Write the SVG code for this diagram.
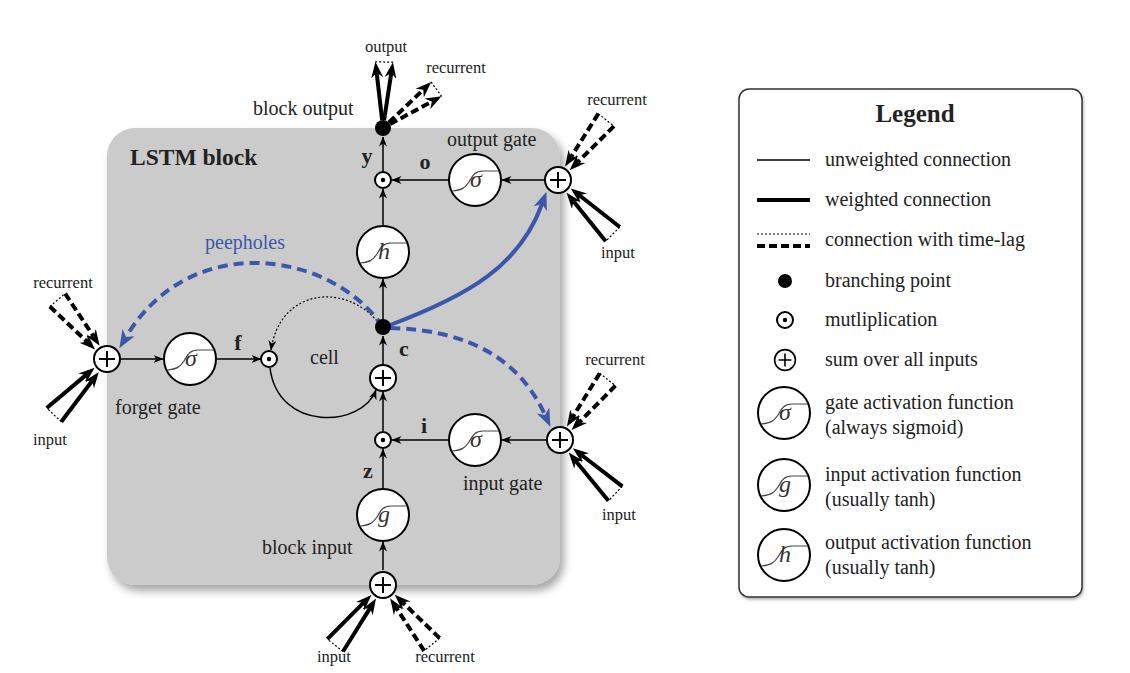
<svg xmlns="http://www.w3.org/2000/svg" width="1130" height="673" viewBox="0 0 1130 673">
<defs>
<style>
text{font-family:"Liberation Serif","DejaVu Serif",serif;fill:#222}
.lbl{font-size:20px}
.sm{font-size:16.5px;text-anchor:middle}
.bl{font-size:22px;font-weight:bold;text-anchor:middle}
.th{fill:none;stroke:#000;stroke-width:1.5}
.wt{fill:none;stroke:#000;stroke-width:4}
.dt{fill:none;stroke:#000;stroke-width:4;stroke-dasharray:8 4}
.dot{fill:none;stroke:#000;stroke-width:1.2;stroke-dasharray:2 2}
.pb{fill:none;stroke:#3b56ab;stroke-width:4;stroke-dasharray:10 6}
.sb{fill:none;stroke:#3b56ab;stroke-width:4}
.act{font-size:24px;font-style:italic;fill:#333;text-anchor:middle}
.ring{fill:#fff;stroke:#000;stroke-width:2}
.sig{fill:none;stroke:#444;stroke-width:1.2}
</style>
<marker id="a" viewBox="0 0 10 8" markerWidth="10" markerHeight="8" refX="9.5" refY="4" orient="auto" markerUnits="userSpaceOnUse"><path d="M0,0 L10,4 L0,8 L3,4z" fill="#000"/></marker>
<marker id="ak" viewBox="0 0 16 12" markerWidth="16" markerHeight="12" refX="5" refY="6" orient="auto" markerUnits="userSpaceOnUse"><path d="M0,0 L16,6 L0,12 L5,6z" fill="#000"/></marker>
<marker id="ab" viewBox="0 0 18 14" markerWidth="18" markerHeight="14" refX="5" refY="7" orient="auto" markerUnits="userSpaceOnUse"><path d="M0,0 L18,7 L0,14 L5,7z" fill="#3b56ab"/></marker>
<filter id="sh" x="-10%" y="-10%" width="130%" height="130%"><feDropShadow dx="4" dy="6" stdDeviation="4" flood-color="#000" flood-opacity="0.35"/></filter>
<filter id="sh2" x="-10%" y="-10%" width="130%" height="130%"><feDropShadow dx="1" dy="2" stdDeviation="1.5" flood-color="#000" flood-opacity="0.3"/></filter>
<g id="sum"><circle r="13" class="ring"/><path d="M-8,0H8M0,-8V8" stroke="#000" stroke-width="2"/></g>
<g id="mul"><circle r="8" class="ring"/><circle r="2.2" fill="#000"/></g>
<g id="actc"><circle r="26" class="ring"/><path class="sig" d="M-23,11 C-13,10 -10,8 -6,2 C-2,-5 0,-9 8,-9 L24,-9"/></g>
<g id="pin"><path class="wt" d="M77,-10 L25.9,-4.2" marker-end="url(#ak)"/><path class="wt" d="M77,10 L25.9,4.2" marker-end="url(#ak)"/><path class="dot" d="M77,-10 L77,10"/></g>
<g id="prc"><path class="dt" d="M77,-10 L25.9,-4.2" marker-end="url(#ak)"/><path class="dt" d="M77,10 L25.9,4.2" marker-end="url(#ak)"/><path class="dot" d="M77,-10 L77,10"/></g>
<g id="pout"><path class="wt" d="M8,-1 L55.1,-7.3" marker-end="url(#ak)"/><path class="wt" d="M8,1 L55.1,7.3" marker-end="url(#ak)"/><path class="dot" d="M66,-9 L66,9"/></g>
<g id="poutr"><path class="dt" d="M8,-1 L55.1,-7.3" marker-end="url(#ak)"/><path class="dt" d="M8,1 L55.1,7.3" marker-end="url(#ak)"/><path class="dot" d="M66,-9 L66,9"/></g>
</defs>

<g id="lstm-block">
<rect x="107" y="128" width="453" height="457" rx="28" fill="#cbcbcb" filter="url(#sh)"/>
<text x="130" y="165" style="font-size:23.5px;font-weight:bold">LSTM block</text>
</g>

<g id="connectors">
<path class="th" d="M383,570 L383,542" marker-end="url(#a)"/>
<path class="th" d="M383,489 L383,449" marker-end="url(#a)"/>
<path class="th" d="M383,432 L383,392" marker-end="url(#a)"/>
<path class="th" d="M546,440 L502,440" marker-end="url(#a)"/>
<path class="th" d="M449,440 L392,440" marker-end="url(#a)"/>
<path class="th" d="M383,365 L383,336" marker-end="url(#a)"/>
<path class="th" d="M383,327 L383,279" marker-end="url(#a)"/>
<path class="th" d="M383,226 L383,189" marker-end="url(#a)"/>
<path class="th" d="M383,172 L383,137" marker-end="url(#a)"/>
<path class="th" d="M545,180 L502,180" marker-end="url(#a)"/>
<path class="th" d="M449,180 L392,180" marker-end="url(#a)"/>
<path class="th" d="M121,359 L163,359" marker-end="url(#a)"/>
<path class="th" d="M216,359 L261,359" marker-end="url(#a)"/>
<path class="th" d="M270,368 C278,432 362,428 376,390" marker-end="url(#a)"/>
<path class="dot" d="M377,321 C345,283 280,288 271,350" marker-end="url(#a)"/>
<path class="pb" d="M383,327 C330,250 190,230 126,337" marker-end="url(#ab)"/>
<path class="pb" d="M390,328 C470,330 520,360 545,415" marker-end="url(#ab)"/>
<path class="sb" d="M390,325 C470,295 520,265 542,204" marker-end="url(#ab)"/>
<use href="#prc" transform="translate(558,180) rotate(-51.3)"/>
<use href="#pin" transform="translate(558,180) rotate(44.7)"/>
<use href="#prc" transform="translate(560,440) rotate(-51.8)"/>
<use href="#pin" transform="translate(560,440) rotate(44)"/>
<use href="#prc" transform="translate(107,359) rotate(-130)"/>
<use href="#pin" transform="translate(107,359) rotate(133.5)"/>
<use href="#pin" transform="translate(383,585) rotate(128.4)"/>
<use href="#prc" transform="translate(383,585) rotate(50.6)"/>
<use href="#pout" transform="translate(383,128) rotate(-89)"/>
<use href="#poutr" transform="translate(383,128) rotate(-36)"/>
</g>

<g id="block-input-sum"><use href="#sum" transform="translate(383,585)"/>
<text class="sm" x="334" y="662">input</text><text class="sm" x="445" y="662">recurrent</text></g>
<g id="block-input"><use href="#actc" transform="translate(383,515)"/><text class="act" x="384" y="522">g</text>
<text class="lbl" x="262" y="554">block input</text></g>
<g id="z-mult"><use href="#mul" transform="translate(383,440)"/><text class="bl" x="368" y="478">z</text></g>
<g id="input-gate-sum"><use href="#sum" transform="translate(560,440)"/>
<text class="sm" x="615" y="365">recurrent</text><text class="sm" x="619" y="520">input</text></g>
<g id="input-gate"><use href="#actc" transform="translate(475,440)"/><text class="act" x="476" y="447">σ</text>
<text class="lbl" x="463" y="490">input gate</text><text class="bl" x="424" y="433">i</text></g>
<g id="cell-sum"><use href="#sum" transform="translate(383,378)"/><text class="lbl" x="310" y="364">cell</text></g>
<g id="c-branch"><circle cx="383" cy="327" r="8" fill="#000"/><text class="bl" x="404" y="356">c</text></g>
<g id="forget-gate-sum"><use href="#sum" transform="translate(107,359)"/>
<text class="sm" x="63" y="288">recurrent</text><text class="sm" x="50" y="445">input</text></g>
<g id="forget-gate"><use href="#actc" transform="translate(190,359)"/><text class="act" x="191" y="366">σ</text>
<text class="lbl" x="115" y="414">forget gate</text><text class="bl" x="238" y="350">f</text></g>
<g id="f-mult"><use href="#mul" transform="translate(269,359)"/></g>
<g id="peepholes"><text class="lbl" x="205" y="249" style="fill:#3b56ab">peepholes</text></g>
<g id="output-act"><use href="#actc" transform="translate(383,252)"/><text class="act" x="384" y="259">h</text></g>
<g id="y-mult"><use href="#mul" transform="translate(383,180)"/><text class="bl" x="367" y="163">y</text></g>
<g id="output-gate"><use href="#actc" transform="translate(475,180)"/><text class="act" x="476" y="187">σ</text>
<text class="lbl" x="447" y="146">output gate</text><text class="bl" x="425" y="169">o</text></g>
<g id="output-gate-sum"><use href="#sum" transform="translate(558,180)"/>
<text class="sm" x="617" y="105">recurrent</text><text class="sm" x="618" y="258">input</text></g>
<g id="block-output"><circle cx="383" cy="128" r="8" fill="#000"/>
<text class="lbl" x="253" y="115">block output</text>
<text class="sm" x="386" y="52">output</text><text class="sm" x="456" y="73">recurrent</text></g>

<g id="legend">
<rect x="739" y="89" width="343" height="508" rx="10" fill="#fff" stroke="#333" stroke-width="1.5" filter="url(#sh2)"/>
<text x="915" y="122" style="font-size:25px;font-weight:bold;text-anchor:middle">Legend</text>
<path d="M757,160H810" stroke="#000" stroke-width="1.5"/>
<text class="lbl" x="825" y="166">unweighted connection</text>
<path d="M757,200H810" stroke="#000" stroke-width="4"/>
<text class="lbl" x="825" y="206">weighted connection</text>
<path class="dot" d="M757,234H810"/>
<path class="dt" d="M757,246H810"/>
<text class="lbl" x="825" y="246">connection with time-lag</text>
<circle cx="785" cy="281" r="7" fill="#000"/>
<text class="lbl" x="825" y="287">branching point</text>
<use href="#mul" transform="translate(785,320)"/>
<text class="lbl" x="825" y="326">mutliplication</text>
<g transform="translate(785,360) scale(0.8)"><use href="#sum"/></g>
<text class="lbl" x="825" y="366">sum over all inputs</text>
<g transform="translate(784,413)"><use href="#actc"/><text class="act" x="1" y="7">σ</text></g>
<text class="lbl" x="825" y="409">gate activation function</text>
<text class="lbl" x="825" y="434">(always sigmoid)</text>
<g transform="translate(784,485)"><use href="#actc"/><text class="act" x="1" y="7">g</text></g>
<text class="lbl" x="825" y="481">input activation function</text>
<text class="lbl" x="825" y="506">(usually tanh)</text>
<g transform="translate(784,555)"><use href="#actc"/><text class="act" x="1" y="7">h</text></g>
<text class="lbl" x="825" y="549">output activation function</text>
<text class="lbl" x="825" y="574">(usually tanh)</text>
</g>
</svg>
